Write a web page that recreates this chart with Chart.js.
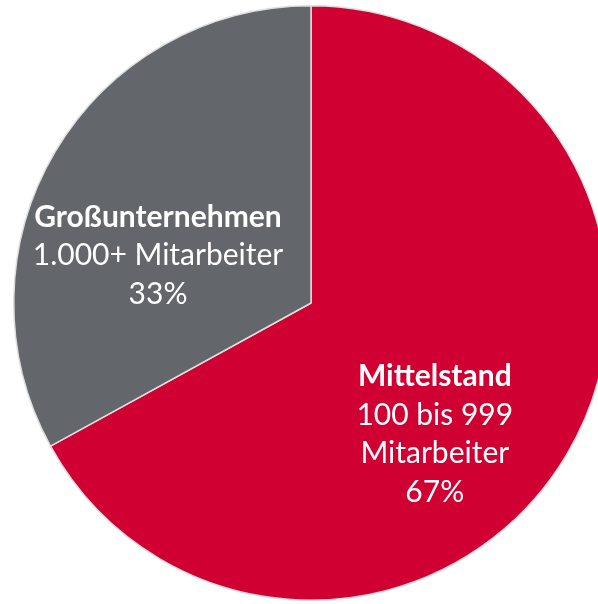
<!DOCTYPE html>
<html>
<head>
<meta charset="utf-8">
<script src="https://cdn.jsdelivr.net/npm/chart.js@4.4.1/dist/chart.umd.min.js"></script>
<style>
  html, body { margin: 0; padding: 0; background: #fff; overflow: hidden; }
  #wrap { position: relative; width: 622px; height: 604px; }
</style>
</head>
<body>
<div id="wrap"><canvas id="myChart"></canvas></div>
<script>
// data
const categories = ['Mittelstand', 'Großunternehmen'];
const subLabels = [['100 bis 999', 'Mitarbeiter'], ['1.000+ Mitarbeiter']];
const shares = [67, 33];
const colors = ['#D10032', '#63666A'];

// label placement relative to the slice middle (degrees shift, fraction of radius)
const labelShift = [15.9, -13.0];
const labelRadius = [0.605, 0.54];

const FONT = 'Lato, "Open Sans", sans-serif';
const SIZE = 30;
const LINE_H = 38.5;

const sliceLabels = {
    id: 'sliceLabels',
    afterDatasetsDraw(chart) {
        const ctx = chart.ctx;
        const meta = chart.getDatasetMeta(0);
        meta.data.forEach((arc, i) => {
            const mid = (arc.startAngle + arc.endAngle) / 2 + labelShift[i] * Math.PI / 180;
            const r = arc.outerRadius * labelRadius[i];
            const cx = arc.x + Math.cos(mid) * r;
            const cy = arc.y + Math.sin(mid) * r;

            const lines = [categories[i]].concat(subLabels[i], [shares[i] + '%']);
            const cap = SIZE * 0.72;
            let y = cy - (lines.length - 1) * LINE_H / 2 + cap / 2;

            ctx.save();
            ctx.fillStyle = '#ffffff';
            ctx.textAlign = 'center';
            ctx.textBaseline = 'alphabetic';
            lines.forEach((txt, j) => {
                ctx.font = (j === 0 ? 'bold ' : '') + SIZE + 'px ' + FONT;
                ctx.fillText(txt, cx, y);
                y += LINE_H;
            });
            ctx.restore();
        });
    }
};

new Chart(document.getElementById('myChart'), {
    type: 'pie',
    data: {
        labels: categories,
        datasets: [{
            data: shares,
            backgroundColor: colors,
            borderColor: '#dedede',
            borderWidth: 1.5
        }]
    },
    options: {
        responsive: true,
        maintainAspectRatio: false,
        animation: false,
        layout: { padding: { left: 13, right: 13, top: 5, bottom: 3 } },
        plugins: {
            legend: { display: false },
            tooltip: { enabled: false }
        }
    },
    plugins: [sliceLabels]
});
</script>
</body>
</html>
